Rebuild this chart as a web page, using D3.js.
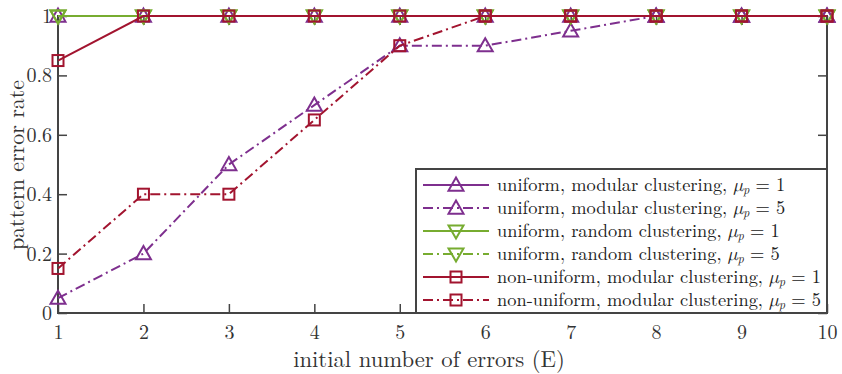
<!DOCTYPE html>
<html>
<head>
<meta charset="utf-8">
<script src="https://cdn.jsdelivr.net/npm/d3@7"></script>
<style>
  html, body { margin: 0; padding: 0; background: #fff; }
</style>
</head>
<body>
<svg id="chart" width="842" height="374"></svg>
<script>
// initial number of errors E
const errors = [1, 2, 3, 4, 5, 6, 7, 8, 9, 10];

// pattern error rate per configuration
const uniModMu1  = [1, 1, 1, 1, 1, 1, 1, 1, 1, 1];
const uniModMu5  = [0.05, 0.2, 0.5, 0.7, 0.9, 0.9, 0.95, 1, 1, 1];
const uniRndMu1  = [1, 1, 1, 1, 1, 1, 1, 1, 1, 1];
const uniRndMu5  = [1, 1, 1, 1, 1, 1, 1, 1, 1, 1];
const nonModMu1  = [0.85, 1, 1, 1, 1, 1, 1, 1, 1, 1];
const nonModMu5  = [0.15, 0.4, 0.4, 0.65, 0.9, 1, 1, 1, 1, 1];

const xTicks = [1, 2, 3, 4, 5, 6, 7, 8, 9, 10];
const yTicks = [0, 0.2, 0.4, 0.6, 0.8, 1];
const yTickLabels = ["0", "0.2", "0.4", "0.6", "0.8", "1"];

const seriesNames = [
  ["uniform, modular clustering, ", "1"],
  ["uniform, modular clustering, ", "5"],
  ["uniform, random clustering, ", "1"],
  ["uniform, random clustering, ", "5"],
  ["non-uniform, modular clustering, ", "1"],
  ["non-uniform, modular clustering, ", "5"]
];

const FONT = '"Latin Modern Roman", "DejaVu Serif", serif';
const MATH = '"Latin Modern Math", "Latin Modern Roman", "DejaVu Serif", serif';

const purple = "#7e2f8e", green = "#77ac30", red = "#a2142f";
const dashDot = "10,4,2,4";
const series = [
  { values: uniModMu1, color: purple, dash: null,    marker: "up" },
  { values: uniModMu5, color: purple, dash: dashDot, marker: "up" },
  { values: uniRndMu1, color: green,  dash: null,    marker: "down" },
  { values: uniRndMu5, color: green,  dash: dashDot, marker: "down" },
  { values: nonModMu1, color: red,    dash: null,    marker: "square" },
  { values: nonModMu5, color: red,    dash: dashDot, marker: "square" }
];

const svg = d3.select("#chart");
const pLeft = 58, pRight = 827, pTop = 16, pBottom = 313;
const axisColor = "#444";
const textColor = "#333";

const x = d3.scaleLinear().domain([1, 10]).range([pLeft, pRight]);
const y = d3.scaleLinear().domain([0, 1]).range([pBottom, pTop]);

// axis box
svg.append("rect")
  .attr("x", pLeft).attr("y", pTop)
  .attr("width", pRight - pLeft).attr("height", pBottom - pTop)
  .attr("fill", "none").attr("stroke", axisColor).attr("stroke-width", 2);

// inward ticks with labels on bottom and left
const gx = svg.append("g").attr("transform", `translate(0,${pBottom})`)
  .call(d3.axisBottom(x).tickValues(xTicks).tickSize(-9).tickPadding(12)
    .tickFormat(d3.format("d")));
const gy = svg.append("g").attr("transform", `translate(${pLeft},0)`)
  .call(d3.axisLeft(y).tickValues(yTicks).tickSize(-9).tickPadding(6)
    .tickFormat((d, i) => yTickLabels[i]));
// mirrored ticks on top and right
const gxt = svg.append("g").attr("transform", `translate(0,${pTop})`)
  .call(d3.axisTop(x).tickValues(xTicks).tickSize(-9).tickFormat(""));
const gyr = svg.append("g").attr("transform", `translate(${pRight},0)`)
  .call(d3.axisRight(y).tickValues(yTicks).tickSize(-9).tickFormat(""));

[gx, gy, gxt, gyr].forEach(g => {
  g.select(".domain").remove();
  g.selectAll(".tick line").attr("stroke", axisColor).attr("stroke-width", 1.5);
  g.selectAll(".tick text").attr("fill", textColor).attr("font-size", 20)
    .style("font-family", FONT);
});

// axis titles
svg.append("text")
  .attr("x", 429).attr("y", 367)
  .attr("text-anchor", "middle").attr("font-size", 22.7).attr("fill", textColor)
  .style("font-family", FONT)
  .text("initial number of errors (E)");
svg.append("text")
  .attr("transform", `translate(24,165) rotate(-90)`)
  .attr("text-anchor", "middle").attr("font-size", 22).attr("fill", textColor)
  .style("font-family", FONT)
  .text("pattern error rate");

// hollow markers
function drawMarker(g, type, cx, cy, color) {
  if (type === "square") {
    g.append("rect").attr("x", cx - 5.5).attr("y", cy - 5.5)
      .attr("width", 11).attr("height", 11)
      .attr("fill", "none").attr("stroke", color).attr("stroke-width", 2);
  } else {
    const s = 7.5;
    const pts = type === "up"
      ? [[cx, cy - s], [cx + s, cy + s * 0.75], [cx - s, cy + s * 0.75]]
      : [[cx, cy + s], [cx + s, cy - s * 0.75], [cx - s, cy - s * 0.75]];
    g.append("polygon").attr("points", pts.map(p => p.join(",")).join(" "))
      .attr("fill", "none").attr("stroke", color).attr("stroke-width", 2);
  }
}

const line = d3.line().x((d, i) => x(errors[i])).y(d => y(d));

const plot = svg.append("g");
series.forEach(s => {
  const g = plot.append("g");
  g.append("path").datum(s.values).attr("d", line)
    .attr("fill", "none").attr("stroke", s.color).attr("stroke-width", 2)
    .attr("stroke-dasharray", s.dash);
  s.values.forEach((v, i) => drawMarker(g, s.marker, x(errors[i]), y(v), s.color));
});

// legend
const lg = svg.append("g");
const lgX = 416, lgY = 169, lgW = 411, lgH = 144;
lg.append("rect").attr("x", lgX).attr("y", lgY).attr("width", lgW).attr("height", lgH)
  .attr("fill", "#fff").attr("stroke", axisColor).attr("stroke-width", 2);
const rowY = d3.scaleLinear().domain([0, 5]).range([lgY + 16, lgY + 131]);
series.forEach((s, i) => {
  const ry = rowY(i);
  lg.append("line").attr("x1", lgX + 7).attr("x2", lgX + 73)
    .attr("y1", ry).attr("y2", ry)
    .attr("stroke", s.color).attr("stroke-width", 2)
    .attr("stroke-dasharray", s.dash);
  drawMarker(lg, s.marker, lgX + 40, ry, s.color);
  const t = lg.append("text").attr("x", lgX + 81).attr("y", ry + 6)
    .attr("font-size", 18.4).attr("fill", "#222").style("font-family", FONT);
  t.append("tspan").text(seriesNames[i][0]);
  t.append("tspan").attr("font-style", "italic").style("font-family", MATH).text("μ");
  t.append("tspan").attr("font-style", "italic").attr("font-size", 12.5).attr("dy", 3).text("p");
  t.append("tspan").attr("dy", -3).text(" = " + seriesNames[i][1]);
});
</script>
</body>
</html>
